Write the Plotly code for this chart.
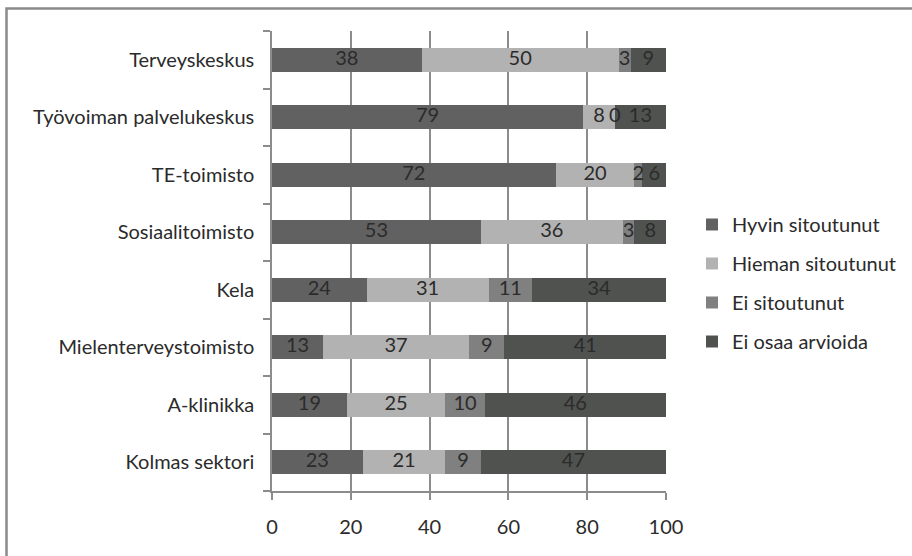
import numpy as np
import plotly.graph_objects as go

# Organisations (top to bottom)
categories = [
    "Terveyskeskus",
    "Työvoiman palvelukeskus",
    "TE-toimisto",
    "Sosiaalitoimisto",
    "Kela",
    "Mielenterveystoimisto",
    "A-klinikka",
    "Kolmas sektori",
]

series_names = ["Hyvin sitoutunut", "Hieman sitoutunut", "Ei sitoutunut", "Ei osaa arvioida"]

hyvin = [38, 79, 72, 53, 24, 13, 19, 23]
hieman = [50, 8, 20, 36, 31, 37, 25, 21]
ei_sitoutunut = [3, 0, 2, 3, 11, 9, 10, 9]
ei_osaa = [9, 13, 6, 8, 34, 41, 46, 47]

x_ticks = [0, 20, 40, 60, 80, 100]

colors = ["#616161", "#b2b2b2", "#808080", "#505250"]
FONT = "Lato"
FS = 20
TXT = "#2b2b2b"

values = [hyvin, hieman, ei_sitoutunut, ei_osaa]

fig = go.Figure()

# Stacked horizontal bars
for name, vals, col in zip(series_names, values, colors):
    fig.add_trace(go.Bar(
        y=categories, x=vals, name=name, orientation="h",
        marker=dict(color=col, line=dict(width=0)),
        legendgroup=name, hoverinfo="x+name",
    ))

# Value labels centred in each segment
base = np.zeros(len(categories))
for name, vals in zip(series_names, values):
    v = np.array(vals, dtype=float)
    mid = base + v / 2
    fig.add_trace(go.Scatter(
        y=categories, x=mid, mode="text", text=[str(t) for t in vals],
        textposition="middle center",
        textfont=dict(family=FONT, size=FS, color=TXT),
        showlegend=False, hoverinfo="skip",
    ))
    base = base + v

W, H = 912, 556
L, R, T, B = 272, 666, 31, 491
pw, ph = R - L, B - T

def px_x(p):
    return (p - L) / pw

def px_y(p):
    return (B - p) / ph

fig.update_layout(
    width=W, height=H,
    margin=dict(l=L, r=W - R, t=T, b=H - B, pad=0, autoexpand=False),
    paper_bgcolor="white", plot_bgcolor="white",
    barmode="stack", bargap=0.58,
    font=dict(family=FONT, size=FS, color=TXT),
    showlegend=True,
    legend=dict(
        x=px_x(692), y=px_y(205), xanchor="left", yanchor="top",
        traceorder="grouped", tracegroupgap=10,
        font=dict(family=FONT, size=FS, color=TXT),
        bgcolor="rgba(0,0,0,0)", itemclick=False,
    ),
    xaxis=dict(
        range=[0, 100], tickvals=x_ticks, ticktext=[str(t) for t in x_ticks],
        showgrid=True, gridcolor="#8c8c8c", gridwidth=1.5,
        showline=True, linecolor="#8c8c8c", linewidth=1.5,
        ticks="outside", ticklen=7, tickcolor="#8c8c8c", tickwidth=1.5,
        ticklabelstandoff=10, zeroline=False, fixedrange=True,
        tickfont=dict(family=FONT, size=FS, color=TXT),
    ),
    yaxis=dict(
        categoryorder="array", categoryarray=categories[::-1],
        range=[-0.5, len(categories) - 0.5],
        showline=True, linecolor="#8c8c8c", linewidth=1.5,
        ticks="outside", ticklen=7, tickcolor="#8c8c8c", tickwidth=1.5,
        tickson="boundaries", showgrid=False, zeroline=False,
        ticklabelstandoff=12, fixedrange=True,
        tickfont=dict(family=FONT, size=FS, color=TXT),
    ),
    shapes=[dict(
        type="rect", xref="paper", yref="paper",
        x0=px_x(6.5), x1=px_x(940), y0=px_y(580), y1=px_y(8.5),
        line=dict(color="#8a8a8a", width=2.5), fillcolor="rgba(0,0,0,0)",
        layer="below",
    )],
)

fig.write_html("out.html")
